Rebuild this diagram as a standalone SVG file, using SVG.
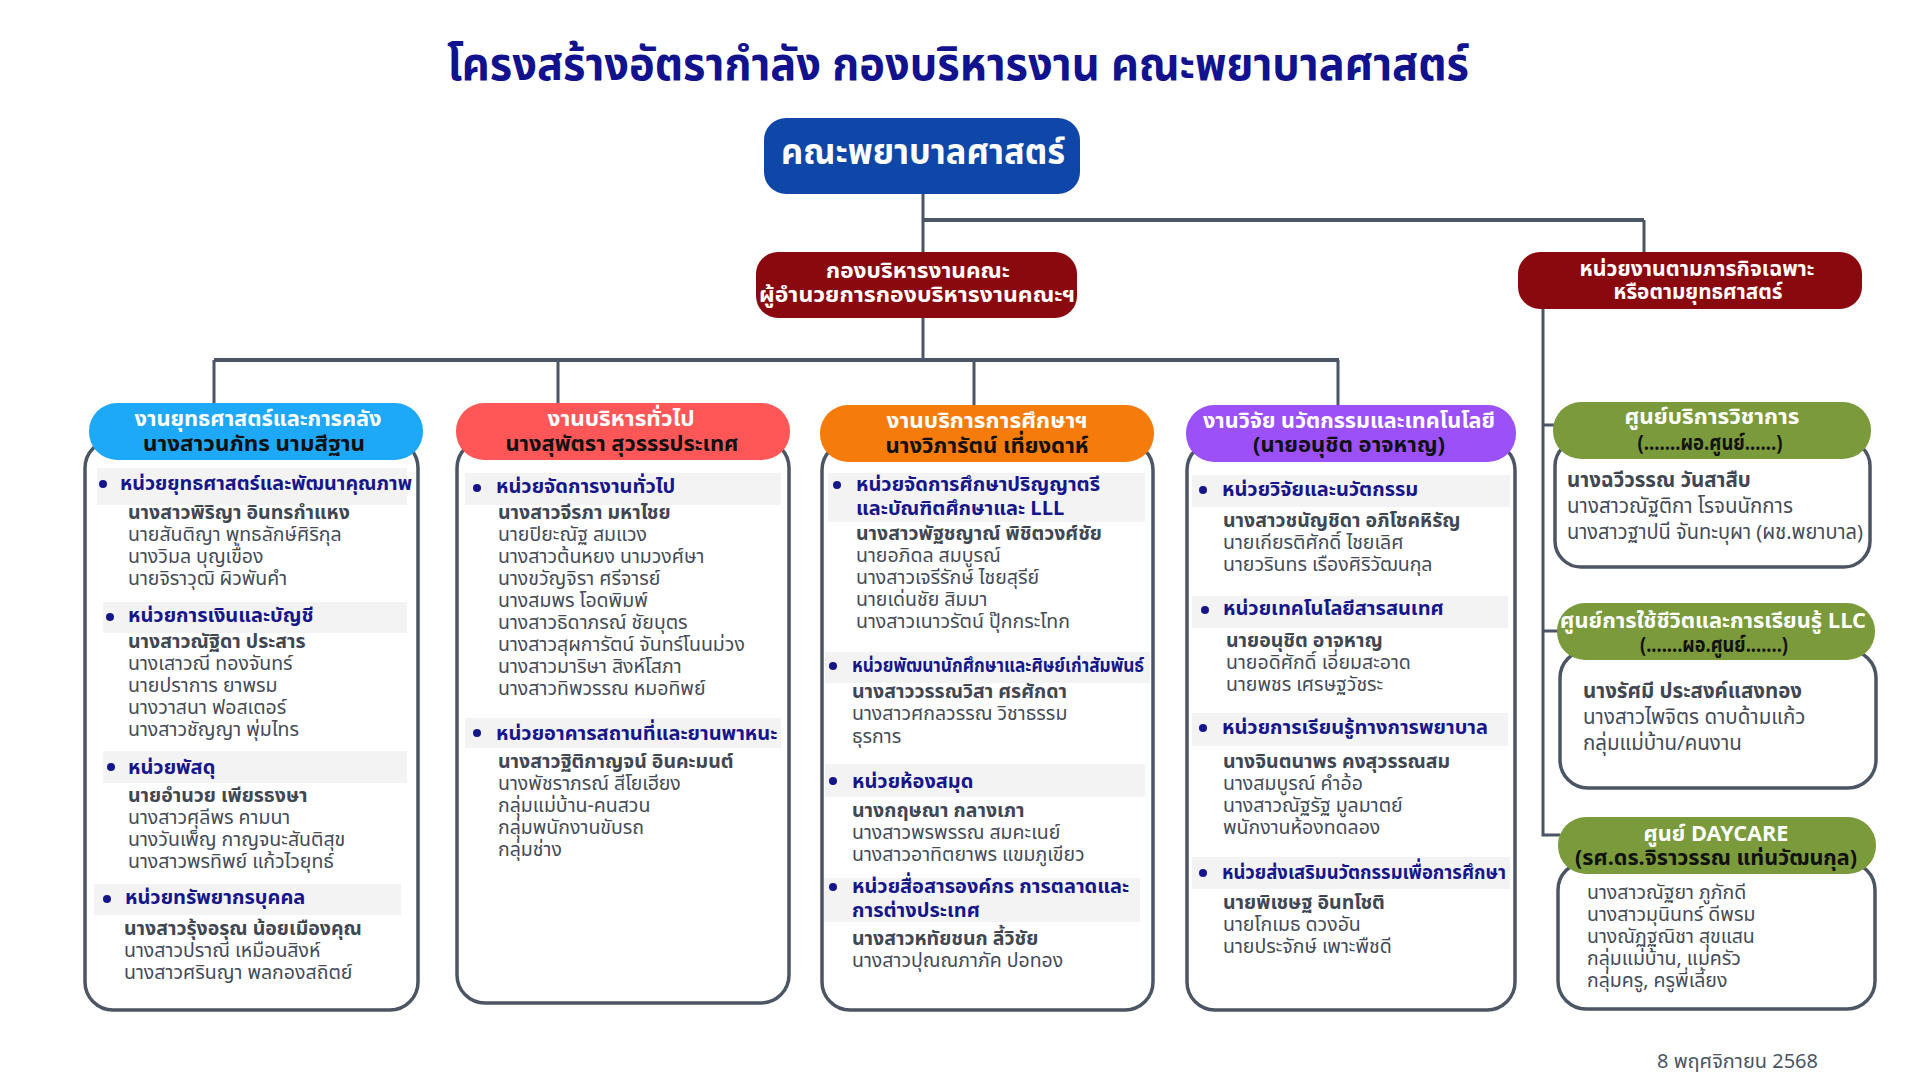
<svg xmlns="http://www.w3.org/2000/svg" width="1920" height="1080" viewBox="0 0 1920 1080">
<style>
text{font-family:"Noto Sans Thai","Noto Sans Thai UI","Noto Sans","DejaVu Sans",sans-serif;}
.title{font-size:46px;font-weight:700;fill:#12128F;}
.hw{font-size:21.5px;font-weight:700;fill:#FFFFFF;}
.hb{font-size:21.5px;font-weight:700;fill:#111111;}
.sec{font-size:20px;font-weight:700;fill:#16168A;}
.nb{font-size:19.5px;font-weight:700;fill:#3F4753;}
.nr{font-size:19.5px;font-weight:400;fill:#444B57;}
.nb2{font-size:20.5px;font-weight:700;fill:#3F4753;}
.nr2{font-size:20.5px;font-weight:400;fill:#444B57;}
.body{fill:#FFFFFF;stroke:#4B5563;stroke-width:3.5;}
.bar{fill:#F3F3F3;}
.dot{fill:#16168A;}
.conn{fill:none;stroke:#4B5563;stroke-width:3;}
.connh{fill:none;stroke:#4B5563;stroke-width:4;}
.date{font-size:20px;fill:#4B5563;}
</style>
<rect width="1920" height="1080" fill="#FFFFFF"/>
<text class="title" x="958" y="80" text-anchor="middle" textLength="1022" lengthAdjust="spacingAndGlyphs">โครงสร้างอัตรากำลัง กองบริหารงาน คณะพยาบาลศาสตร์</text>

<g id="connectors">
<path class="conn" d="M923 194 V360"/>
<path class="connh" d="M923 220 H1644"/>
<path class="conn" d="M1644 220 V252"/>
<path class="connh" d="M214 360 H1339"/>
<path class="conn" d="M214 360 V405 M558 360 V405 M974 360 V407 M1338 360 V407"/>
<path class="conn" d="M1543 309 V835 H1560 M1543 425 H1555 M1543 631 H1560"/>
</g>

<g id="faculty">
<rect x="764" y="118" width="316" height="76" rx="22" fill="#0E47A8"/>
<text x="923" y="164" text-anchor="middle" font-size="36" font-weight="700" fill="#FFFFFF" textLength="284" lengthAdjust="spacingAndGlyphs">คณะพยาบาลศาสตร์</text>
</g>

<g id="division">
<rect x="756" y="252" width="321" height="66" rx="22" fill="#8A090E"/>
<text class="hw" x="918" y="278" text-anchor="middle" textLength="184" lengthAdjust="spacingAndGlyphs">กองบริหารงานคณะ</text>
<text class="hw" x="917" y="302" text-anchor="middle" textLength="316" lengthAdjust="spacingAndGlyphs">ผู้อำนวยการกองบริหารงานคณะฯ</text>
</g>

<g id="special">
<rect x="1518" y="252" width="344" height="57" rx="22" fill="#8A090E"/>
<text class="hw" x="1697" y="276" text-anchor="middle" textLength="235" lengthAdjust="spacingAndGlyphs">หน่วยงานตามภารกิจเฉพาะ</text>
<text class="hw" x="1698" y="299" text-anchor="middle" textLength="169" lengthAdjust="spacingAndGlyphs">หรือตามยุทธศาสตร์</text>
</g>

<g id="strategy">
<rect class="body" x="85" y="440" width="333" height="570" rx="28"/>
<rect x="89" y="403" width="334" height="57" rx="28" fill="#1EA8F8"/>
<text class="hw" x="258" y="426" text-anchor="middle" textLength="247" lengthAdjust="spacingAndGlyphs">งานยุทธศาสตร์และการคลัง</text>
<text class="hb" x="254" y="451" text-anchor="middle" textLength="222" lengthAdjust="spacingAndGlyphs">นางสาวนภัทร นามสีฐาน</text>
<rect class="bar" x="97" y="468" width="310" height="37"/>
<circle class="dot" cx="103" cy="484" r="4"/>
<text class="sec" x="120" y="490" textLength="292" lengthAdjust="spacingAndGlyphs">หน่วยยุทธศาสตร์และพัฒนาคุณภาพ</text>
<text class="nb" x="128" y="519">นางสาวพิริญา อินทรกำแหง</text>
<text class="nr" x="128" y="541">นายสันติญา พุทธลักษ์ศิริกุล</text>
<text class="nr" x="128" y="563">นางวิมล บุญเขื่อง</text>
<text class="nr" x="128" y="585">นายจิราวุฒิ ผิวพันคำ</text>
<rect class="bar" x="103" y="602" width="304" height="31"/>
<circle class="dot" cx="110" cy="617" r="4"/>
<text class="sec" x="128" y="622">หน่วยการเงินและบัญชี</text>
<text class="nb" x="128" y="648">นางสาวณัฐิดา ประสาร</text>
<text class="nr" x="128" y="670">นางเสาวณี ทองจันทร์</text>
<text class="nr" x="128" y="692">นายปราการ ยาพรม</text>
<text class="nr" x="128" y="714">นางวาสนา ฟอสเตอร์</text>
<text class="nr" x="128" y="736">นางสาวชัญญา พุ่มไทร</text>
<rect class="bar" x="103" y="751" width="304" height="32"/>
<circle class="dot" cx="111" cy="767" r="4"/>
<text class="sec" x="128" y="774">หน่วยพัสดุ</text>
<text class="nb" x="128" y="802">นายอำนวย เพียรธงษา</text>
<text class="nr" x="128" y="824">นางสาวศุลีพร คามนา</text>
<text class="nr" x="128" y="846">นางวันเพ็ญ กาญจนะสันติสุข</text>
<text class="nr" x="128" y="868">นางสาวพรทิพย์ แก้วไวยุทธ์</text>
<rect class="bar" x="94" y="884" width="307" height="31"/>
<circle class="dot" cx="107" cy="899" r="4"/>
<text class="sec" x="125" y="904">หน่วยทรัพยากรบุคคล</text>
<text class="nb" x="124" y="935">นางสาวรุ้งอรุณ น้อยเมืองคุณ</text>
<text class="nr" x="124" y="957">นางสาวปราณี เหมือนสิงห์</text>
<text class="nr" x="124" y="979">นางสาวศรินญา พลกองสถิตย์</text>
</g>

<g id="general">
<rect class="body" x="457" y="440" width="332" height="563" rx="28"/>
<rect x="456" y="403" width="334" height="57" rx="28" fill="#FF5757"/>
<text class="hw" x="621" y="426" text-anchor="middle" textLength="147" lengthAdjust="spacingAndGlyphs">งานบริหารทั่วไป</text>
<text class="hb" x="622" y="451" text-anchor="middle" textLength="233" lengthAdjust="spacingAndGlyphs">นางสุพัตรา สุวรรรประเทศ</text>
<rect class="bar" x="465" y="473" width="316" height="32"/>
<circle class="dot" cx="477" cy="488" r="4"/>
<text class="sec" x="496" y="493">หน่วยจัดการงานทั่วไป</text>
<text class="nb" x="498" y="519">นางสาวจีรภา มหาไชย</text>
<text class="nr" x="498" y="541">นายปิยะณัฐ สมแวง</text>
<text class="nr" x="498" y="563">นางสาวต้นหยง นามวงศ์ษา</text>
<text class="nr" x="498" y="585">นางขวัญจิรา ศรีจารย์</text>
<text class="nr" x="498" y="607">นางสมพร โอดพิมพ์</text>
<text class="nr" x="498" y="629">นางสาวธิดาภรณ์ ชัยบุตร</text>
<text class="nr" x="498" y="651">นางสาวสุผการัตน์ จันทร์โนนม่วง</text>
<text class="nr" x="498" y="673">นางสาวมาริษา สิงห์โสภา</text>
<text class="nr" x="498" y="695">นางสาวทิพวรรณ หมอทิพย์</text>
<rect class="bar" x="465" y="718" width="316" height="30"/>
<circle class="dot" cx="477" cy="733" r="4"/>
<text class="sec" x="496" y="740">หน่วยอาคารสถานที่และยานพาหนะ</text>
<text class="nb" x="498" y="768">นางสาวฐิติกาญจน์ อินคะมนต์</text>
<text class="nr" x="498" y="790">นางพัชราภรณ์ สีโยเฮียง</text>
<text class="nr" x="498" y="812">กลุ่มแม่บ้าน-คนสวน</text>
<text class="nr" x="498" y="834">กลุ่มพนักงานขับรถ</text>
<text class="nr" x="498" y="856">กลุ่มช่าง</text>
</g>

<g id="academic">
<rect class="body" x="822" y="442" width="331" height="568" rx="28"/>
<rect x="820" y="405" width="334" height="57" rx="28" fill="#F57C0A"/>
<text class="hw" x="987" y="428" text-anchor="middle" textLength="201" lengthAdjust="spacingAndGlyphs">งานบริการการศึกษาฯ</text>
<text class="hb" x="987" y="453" text-anchor="middle" textLength="203" lengthAdjust="spacingAndGlyphs">นางวิภารัตน์ เที่ยงดาห์</text>
<rect class="bar" x="828" y="473" width="317" height="49"/>
<circle class="dot" cx="837" cy="485" r="4"/>
<text class="sec" x="856" y="491">หน่วยจัดการศึกษาปริญญาตรี</text>
<text class="sec" x="856" y="515">และบัณฑิตศึกษาและ LLL</text>
<text class="nb" x="856" y="540">นางสาวพัฐชญาณ์ พิชิตวงศ์ชัย</text>
<text class="nr" x="856" y="562">นายอภิดล สมบูรณ์</text>
<text class="nr" x="856" y="584">นางสาวเจรีรักษ์ ไชยสุรีย์</text>
<text class="nr" x="856" y="606">นายเด่นชัย สิมมา</text>
<text class="nr" x="856" y="628">นางสาวเนาวรัตน์ ปุ๊กกระโทก</text>
<rect class="bar" x="825" y="652" width="325" height="31"/>
<circle class="dot" cx="833" cy="666" r="4"/>
<text class="sec" x="852" y="672" textLength="292" lengthAdjust="spacingAndGlyphs">หน่วยพัฒนานักศึกษาและศิษย์เก่าสัมพันธ์</text>
<text class="nb" x="852" y="698">นางสาววรรณวิสา ศรศักดา</text>
<text class="nr" x="852" y="720">นางสาวศกลวรรณ วิชาธรรม</text>
<text class="nr" x="852" y="743">ธุรการ</text>
<rect class="bar" x="825" y="764" width="320" height="33"/>
<circle class="dot" cx="833" cy="781" r="4"/>
<text class="sec" x="852" y="788">หน่วยห้องสมุด</text>
<text class="nb" x="852" y="817">นางกฤษณา กลางเภา</text>
<text class="nr" x="852" y="839">นางสาวพรพรรณ สมคะเนย์</text>
<text class="nr" x="852" y="861">นางสาวอาทิตยาพร แขมภูเขียว</text>
<rect class="bar" x="824" y="878" width="316" height="44"/>
<circle class="dot" cx="833" cy="887" r="4"/>
<text class="sec" x="852" y="893">หน่วยสื่อสารองค์กร การตลาดและ</text>
<text class="sec" x="852" y="917">การต่างประเทศ</text>
<text class="nb" x="852" y="945">นางสาวหทัยชนก ลี้วิชัย</text>
<text class="nr" x="852" y="967">นางสาวปุณณภาภัค ปอทอง</text>
</g>

<g id="research">
<rect class="body" x="1187" y="442" width="328" height="568" rx="28"/>
<rect x="1186" y="405" width="330" height="57" rx="28" fill="#9B51F7"/>
<text class="hw" x="1349" y="428" text-anchor="middle" textLength="292" lengthAdjust="spacingAndGlyphs">งานวิจัย นวัตกรรมและเทคโนโลยี</text>
<text class="hb" x="1349" y="452" text-anchor="middle" textLength="192" lengthAdjust="spacingAndGlyphs">(นายอนุชิต อาจหาญ)</text>
<rect class="bar" x="1192" y="475" width="318" height="32"/>
<circle class="dot" cx="1203" cy="490" r="4"/>
<text class="sec" x="1222" y="496">หน่วยวิจัยและนวัตกรรม</text>
<text class="nb" x="1223" y="527">นางสาวชนัญชิดา อภิโชคหิรัญ</text>
<text class="nr" x="1223" y="549">นายเกียรติศักดิ์ ไชยเลิศ</text>
<text class="nr" x="1223" y="571">นายวรินทร เรืองศิริวัฒนกุล</text>
<rect class="bar" x="1192" y="596" width="316" height="32"/>
<circle class="dot" cx="1205" cy="610" r="4"/>
<text class="sec" x="1223" y="615">หน่วยเทคโนโลยีสารสนเทศ</text>
<text class="nb" x="1226" y="647">นายอนุชิต อาจหาญ</text>
<text class="nr" x="1226" y="669">นายอดิศักดิ์ เอี่ยมสะอาด</text>
<text class="nr" x="1226" y="691">นายพชร เศรษฐวัชระ</text>
<rect class="bar" x="1192" y="713" width="316" height="33"/>
<circle class="dot" cx="1203" cy="728" r="4"/>
<text class="sec" x="1222" y="734">หน่วยการเรียนรู้ทางการพยาบาล</text>
<text class="nb" x="1223" y="768">นางจินตนาพร คงสุวรรณสม</text>
<text class="nr" x="1223" y="790">นางสมบูรณ์ คำอ้อ</text>
<text class="nr" x="1223" y="812">นางสาวณัฐรัฐ มูลมาตย์</text>
<text class="nr" x="1223" y="834">พนักงานห้องทดลอง</text>
<rect class="bar" x="1192" y="857" width="318" height="32"/>
<circle class="dot" cx="1203" cy="873" r="4"/>
<text class="sec" x="1222" y="879" textLength="284" lengthAdjust="spacingAndGlyphs">หน่วยส่งเสริมนวัตกรรมเพื่อการศึกษา</text>
<text class="nb" x="1223" y="909">นายพิเชษฐ อินทโชติ</text>
<text class="nr" x="1223" y="931">นายโกเมธ ดวงอัน</text>
<text class="nr" x="1223" y="953">นายประจักษ์ เพาะพืชดี</text>
</g>

<g id="service-center">
<rect class="body" x="1555" y="440" width="315" height="127" rx="26"/>
<rect x="1553" y="402" width="318" height="57" rx="28" fill="#7A9A3C"/>
<text class="hw" x="1712" y="424" text-anchor="middle" textLength="175" lengthAdjust="spacingAndGlyphs">ศูนย์บริการวิชาการ</text>
<text class="hb" x="1710" y="450" text-anchor="middle" textLength="145" lengthAdjust="spacingAndGlyphs">(.......ผอ.ศูนย์......)</text>
<text class="nb2" x="1567" y="487">นางฉวีวรรณ วันสาสืบ</text>
<text class="nr2" x="1567" y="513">นางสาวณัฐติกา โรจนนักการ</text>
<text class="nr2" x="1567" y="539" textLength="296" lengthAdjust="spacingAndGlyphs">นางสาวฐาปนี จันทะบุผา (ผช.พยาบาล)</text>
</g>

<g id="llc-center">
<rect class="body" x="1560" y="650" width="316" height="138" rx="28"/>
<rect x="1557" y="603" width="318" height="57" rx="28" fill="#7A9A3C"/>
<text class="hw" x="1713" y="628" text-anchor="middle" textLength="306" lengthAdjust="spacingAndGlyphs">ศูนย์การใช้ชีวิตและการเรียนรู้ LLC</text>
<text class="hb" x="1714" y="652" text-anchor="middle" textLength="148" lengthAdjust="spacingAndGlyphs">(.......ผอ.ศูนย์.......)</text>
<text class="nb2" x="1583" y="698">นางรัศมี ประสงค์แสงทอง</text>
<text class="nr2" x="1583" y="724">นางสาวไพจิตร ดาบด้ามแก้ว</text>
<text class="nr2" x="1583" y="750">กลุ่มแม่บ้าน/คนงาน</text>
</g>

<g id="daycare">
<rect class="body" x="1558" y="862" width="317" height="147" rx="28"/>
<rect x="1558" y="817" width="318" height="57" rx="28" fill="#7A9A3C"/>
<text class="hw" x="1716" y="841" text-anchor="middle" textLength="145" lengthAdjust="spacingAndGlyphs">ศูนย์ DAYCARE</text>
<text class="hb" x="1716" y="865" text-anchor="middle" textLength="282" lengthAdjust="spacingAndGlyphs">(รศ.ดร.จิราวรรณ แท่นวัฒนกุล)</text>
<text class="nr" x="1587" y="899">นางสาวณัฐยา ภูภักดี</text>
<text class="nr" x="1587" y="921">นางสาวมุนินทร์ ดีพรม</text>
<text class="nr" x="1587" y="943">นางณัฏฐณิชา สุขแสน</text>
<text class="nr" x="1587" y="965">กลุ่มแม่บ้าน, แม่ครัว</text>
<text class="nr" x="1587" y="987">กลุ่มครู, ครูพี่เลี้ยง</text>
</g>

<text class="date" x="1657" y="1068">8 พฤศจิกายน 2568</text>
</svg>
